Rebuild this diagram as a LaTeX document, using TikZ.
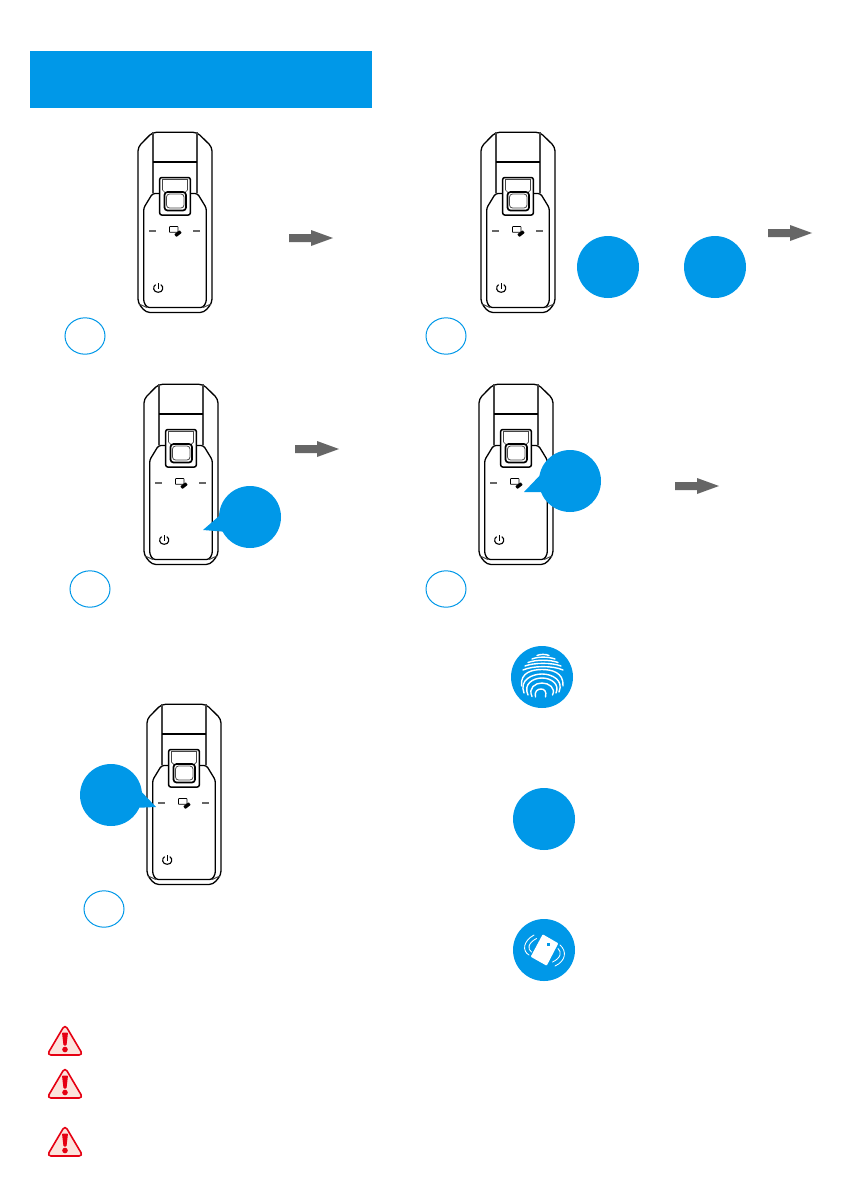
\documentclass[tikz,border=0pt]{standalone}
\definecolor{brand}{HTML}{0098E8}
\definecolor{arrowgray}{HTML}{666666}
\definecolor{warnred}{HTML}{E60012}
\definecolor{warnfill}{HTML}{FCE3DC}
\definecolor{softline}{HTML}{444444}
\tikzset{
  devline/.style={black,line width=1.3pt,line join=round},
  devsoft/.style={softline,line width=1.2pt,line join=round},
  devthick/.style={black,line width=1.7pt,line join=round},
  numring/.style={draw=brand,line width=1pt,fill=white},
  bubble/.style={fill=brand,draw=none},
  whiteline/.style={white,line width=1.4pt,line cap=round},
  thinwhite/.style={white,line width=.85pt,line cap=round},
  grayarrow/.style={fill=arrowgray,draw=none},
}
\newcommand{\device}[2]{%
 \begin{scope}[shift={(#1-138,#2-132)}]
  \draw[devline,rounded corners=4pt] (152.5,132.3) -- (197,132.3) -- (212,147) -- (212,303) -- (204,312.5) -- (146,312.5) -- (138,303) -- (138,147) -- cycle;
  \draw[devsoft] (153,132.3) -- (153,193) (197,132.3) -- (197,193);
  \draw[devline] (153,162) -- (197,162);
  \draw[devline,rounded corners=2.5pt] (159,193.5) -- (152.5,193.5) -- (143.7,208) -- (143.7,302) -- (147,307.5) -- (203,307.5) -- (206.3,302) -- (206.3,208) -- (197.5,193.5) -- (191,193.5);
  \draw[devsoft,line width=1pt] (139,304) -- (147,307.5) (211,304) -- (203,307.5);
  \draw[devline,line width=1.5pt,rounded corners=2pt,fill=white] (159.7,177.5) rectangle (190.3,215);
  \draw[softline,line width=.7pt] (162,179.5) -- (188,179.5) (162.5,180) -- (162.5,190) -- (165,192.5) (187.5,180) -- (187.5,190) -- (185,192.5);
  \draw[devthick,rounded corners=3pt] (164.5,192) rectangle (186,210.5);
  \draw[softline,line width=.8pt,rounded corners=3pt] (166.5,194) rectangle (184,208);
  \draw[arrowgray,line width=1.4pt] (149,231) -- (156,231) (193,231) -- (200,231);
  \draw[black,line width=.7pt,rounded corners=.5pt,fill=white] (169.5,226.5) rectangle (178,232.3);
  \fill[black,rounded corners=.6pt,rotate around={38:(178,233.6)}] (174.6,231.9) rectangle (181.4,235.3);
  \draw[black,line width=1.1pt] (155.6,284.6) .. controls (152.4,286.5) and (153,292.3) .. (158.2,292.3) .. controls (163.4,292.3) and (164,286.5) .. (160.8,284.6);
  \draw[black,line width=1.1pt] (158.2,283) -- (158.2,288.5);
 \end{scope}}
\newcommand{\warnsign}[2]{%
 \draw[warnred,fill=warnfill,line width=1.6pt,line join=round,rounded corners=4pt] (#1,#2-2.5) -- (#1+18,#2+28) -- (#1-18,#2+28) -- cycle;
 \fill[warnred,rounded corners=.8pt] (#1-3,#2+5.5) -- (#1+3,#2+5.5) -- (#1+1.5,#2+18.5) -- (#1-1.5,#2+18.5) -- cycle;
 \fill[warnred] (#1,#2+22.5) circle[radius=2.8];}
\newcommand{\grayarr}[2]{%
 \fill[grayarrow] (#1,#2-4) -- (#1+22,#2-4) -- (#1+22,#2-8) -- (#1+44,#2) -- (#1+22,#2+8) -- (#1+22,#2+4) -- (#1,#2+4) -- cycle;}
\newcommand{\ring}[2]{\path[numring] (#1,#2) circle[x radius=20,y radius=18.2];}
\begin{document}
\begin{tikzpicture}[x=1pt,y=-1pt]
\useasboundingbox (0,0) rectangle (850,1191);
\fill[white] (0,0) rectangle (850,1191);
\fill[brand] (30,51) rectangle (372,108);

\device{138}{132}
\device{481}{132}
\device{144}{384}
\device{479}{384}
\device{147}{704}

\grayarr{289}{238}
\grayarr{768}{233}
\grayarr{295}{449}
\grayarr{675}{486}

\ring{85}{336}
\ring{446}{336}
\ring{90}{589}
\ring{446}{589}
\ring{104}{909}

\path[bubble] (608,267) circle[radius=31];
\path[bubble] (715,267) circle[radius=31];
\path[bubble] (250,517) circle[radius=31];
\path[bubble] (203,530) -- (226,510) -- (228,532) -- cycle;
\path[bubble] (570,481) circle[radius=31];
\path[bubble] (524,492) -- (545,470) -- (548,492) -- cycle;
\path[bubble] (111,795) circle[radius=31];
\path[bubble] (156,807) -- (135,785) -- (133,808) -- cycle;
\path[bubble] (544,819) circle[radius=31];

% fingerprint badge
\path[bubble] (542,677) circle[radius=31];
\begin{scope}[whiteline]
 \draw (537,655.5) .. controls (540,654) and (546,654) .. (549,655.5);
 \draw (532,659) .. controls (538,656.5) and (548,656.5) .. (555,659);
 \draw (528,662.5) .. controls (536,659.5) and (550,659.5) .. (558,662.5);
 \draw (525,666) .. controls (534,662.5) and (552,662.5) .. (561,666);
 \draw (523,670) .. controls (533,665.5) and (553,665.5) .. (563,670);
 \draw (521.5,686) .. controls (520,672) and (533,669.5) .. (542,669.5) .. controls (551,669.5) and (564,672) .. (563,686);
 \draw (524,693) .. controls (519,680) and (532,674) .. (542,674) .. controls (552,674) and (564,680) .. (559,692);
 \draw (528,695) .. controls (523,684) and (533,678) .. (542,678) .. controls (551,678) and (560,684) .. (556,693);
 \draw (532,696.5) .. controls (528,688) and (535,683) .. (542,683) .. controls (549,683) and (556,688) .. (552.5,695);
 \draw (535.5,697) .. controls (534,691) and (538,689) .. (541,689) .. controls (544,689) and (547,691) .. (545.5,697);
\end{scope}

% card badge
\path[bubble] (544,950) circle[radius=31];
\fill[white,rounded corners=.8pt] (542.7,934.3) -- (558.3,943.3) -- (546.7,965.7) -- (530.7,956.7) -- cycle;
\fill[brand] (547,942.5) rectangle (549.5,945.5);
\begin{scope}[thinwhite]
 \draw (534,935) .. controls (523,941) and (522,951) .. (529,955);
 \draw (536.5,938.5) .. controls (528,943) and (527,949) .. (531.5,952);
 \draw (555,966) .. controls (566,961) and (567,951) .. (560,945);
 \draw (552.5,962) .. controls (561,958) and (562,952) .. (558,948.5);
\end{scope}

\warnsign{65}{1027}
\warnsign{65}{1070}
\warnsign{65}{1128}
\end{tikzpicture}
\end{document}
